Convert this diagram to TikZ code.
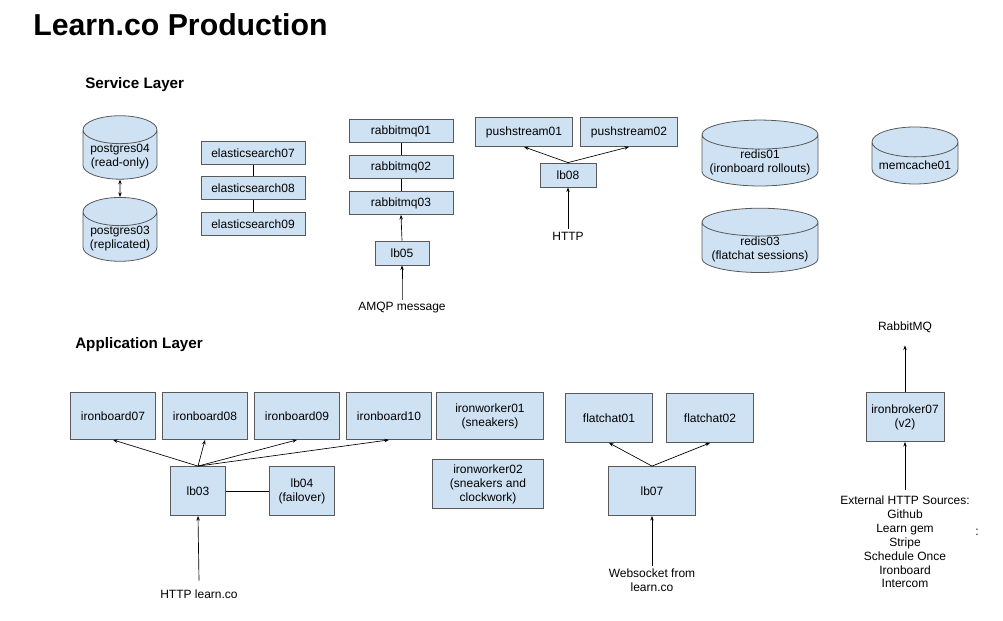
\documentclass[tikz,border=0pt]{standalone}
\usepackage{fontspec}
\setmainfont{Liberation Sans}
\usetikzlibrary{shapes.geometric,arrows.meta}
\definecolor{boxfill}{HTML}{CFE2F3}
\definecolor{boxline}{HTML}{595959}

\begin{document}
\begin{tikzpicture}[x=0.75pt, y=-0.75pt,
    every node/.style={font=\fontsize{9}{10.5}\selectfont},
    server/.style={draw=boxline, fill=boxfill, line width=0.6pt, align=center, inner sep=1pt},
    store/.style={server, cylinder, shape border rotate=90, aspect=0.45, inner ysep=0pt},
    label/.style={align=center, inner sep=2pt},
    link/.style={line width=0.5pt, -{Stealth[length=3.5pt, width=2.6pt]}}]
      \useasboundingbox (0, 0) rectangle (1003, 621);

      % titles
      \node[anchor=base west, inner sep=0pt, font=\bfseries\fontsize{22.7}{26}\selectfont] (title) at (33, 35) {Learn.co Production};
      \node[anchor=west, inner sep=0pt, font=\bfseries\fontsize{11.4}{13}\selectfont] (servicelayer) at (85, 85) {Service Layer};
      \node[anchor=west, inner sep=0pt, font=\bfseries\fontsize{11.4}{13}\selectfont] (applayer) at (75, 345) {Application Layer};

      % service layer
      \node[store, minimum width=55.5pt, minimum height=38pt] (pg04) at (120, 156.5) {postgres04\\(read-only)};
      \node[store, minimum width=55.5pt, minimum height=38pt] (pg03) at (120, 238.5) {postgres03\\(replicated)};
      \draw[link, {Stealth[length=3.5pt, width=2.6pt]}-{Stealth[length=3.5pt, width=2.6pt]}] (pg04.south) -- (pg03.north);

      \node[server, minimum width=78pt, minimum height=17.25pt] (es07) at (253, 153) {elasticsearch07};
      \node[server, minimum width=78pt, minimum height=17.25pt] (es08) at (253, 188) {elasticsearch08};
      \node[server, minimum width=78pt, minimum height=17.25pt] (es09) at (253, 224) {elasticsearch09};
      \draw[line width=0.5pt] (es07) -- (es08) -- (es09);

      \node[server, minimum width=78pt, minimum height=17.25pt] (rmq01) at (401, 131) {rabbitmq01};
      \node[server, minimum width=78pt, minimum height=17.25pt] (rmq02) at (401, 167) {rabbitmq02};
      \node[server, minimum width=78pt, minimum height=17.25pt] (rmq03) at (401, 203) {rabbitmq03};
      \draw[line width=0.5pt] (rmq01) -- (rmq02) -- (rmq03);
      \node[server, minimum width=40.5pt, minimum height=18pt] (lb05) at (402, 253) {lb05};
      \node[label] (amqp) at (402, 308) {AMQP message};
      \draw[link] (lb05.north) -- (rmq03.south);
      \draw[link] (amqp.north) -- ++(0, -10) coordinate (amqptop) -- (lb05.south);

      \node[server, minimum width=72.75pt, minimum height=21.75pt] (push01) at (524, 132) {pushstream01};
      \node[server, minimum width=72.75pt, minimum height=21.75pt] (push02) at (629, 132) {pushstream02};
      \node[server, minimum width=42pt, minimum height=18pt] (lb08) at (568, 175) {lb08};
      \node[label] (http) at (568, 236) {HTTP};
      \draw[link] (lb08.north) -- (push01.south);
      \draw[link] (lb08.north) -- (push02.south);
      \draw[link] (http.north) -- (lb08.south);

      \node[store, minimum width=87pt, minimum height=40.5pt, aspect=0.28] (redis01) at (760, 162) {redis01\\(ironboard rollouts)};
      \node[store, minimum width=87pt, minimum height=40.5pt, aspect=0.28] (redis03) at (760, 249) {redis03\\(flatchat sessions)};
      \node[store, minimum width=64.5pt, minimum height=42.75pt, aspect=0.4] (memcache01) at (915, 165) {memcache01};

      % application layer
      \node[server, minimum width=63.75pt, minimum height=35.25pt] (ib07) at (113, 416) {ironboard07};
      \node[server, minimum width=63.75pt, minimum height=35.25pt] (ib08) at (205, 416) {ironboard08};
      \node[server, minimum width=63.75pt, minimum height=35.25pt] (ib09) at (297, 416) {ironboard09};
      \node[server, minimum width=63.75pt, minimum height=35.25pt] (ib10) at (389, 416) {ironboard10};
      \node[server, minimum width=80.25pt, minimum height=35.25pt] (iw01) at (490, 416) {ironworker01\\(sneakers)};
      \node[server, minimum width=83.25pt, minimum height=36.75pt] (iw02) at (488, 484) {ironworker02\\(sneakers and\\clockwork)};
      \node[server, minimum width=41.25pt, minimum height=36.75pt] (lb03) at (198, 491) {lb03};
      \node[server, minimum width=48.75pt, minimum height=36.75pt] (lb04) at (302, 491) {lb04\\(failover)};
      \node[label] (httplearn) at (199, 594) {HTTP learn.co};
      \draw[line width=0.5pt] (lb03) -- (lb04);
      \foreach \ib in {ib07, ib08, ib09, ib10}
        \draw[link] (lb03.north) -- (\ib.south);
      \draw[link] (httplearn.north) ++(0, -6) -- (lb03.south);

      \node[server, minimum width=65.25pt, minimum height=36.75pt] (fc01) at (609, 418) {flatchat01};
      \node[server, minimum width=65.25pt, minimum height=36.75pt] (fc02) at (710, 418) {flatchat02};
      \node[server, minimum width=65.25pt, minimum height=36.75pt] (lb07) at (652, 491) {lb07};
      \node[label] (websocket) at (652, 580) {Websocket from\\learn.co};
      \draw[link] (lb07.north) -- (fc01.south);
      \draw[link] (lb07.north) -- (fc02.south);
      \draw[link] (websocket.north) -- (lb07.south);

      \node[server, minimum width=58.5pt, minimum height=36.75pt] (broker07) at (905, 417) {ironbroker07\\(v2)};
      \node[label] (rabbitmq) at (905, 327) {RabbitMQ};
      \node[label, font=\fontsize{9}{10.4}\selectfont] (sources) at (905, 542) {External HTTP Sources:\\Github\\Learn gem\\Stripe\\Schedule Once\\Ironboard\\Intercom};
      \node[label] (colon) at (977, 532) {:};
      \draw[link] (broker07.north) -- ([yshift=-7.5pt]rabbitmq.south);
      \draw[link] (sources.north) ++(0, -3) -- (broker07.south);
\end{tikzpicture}
\end{document}
